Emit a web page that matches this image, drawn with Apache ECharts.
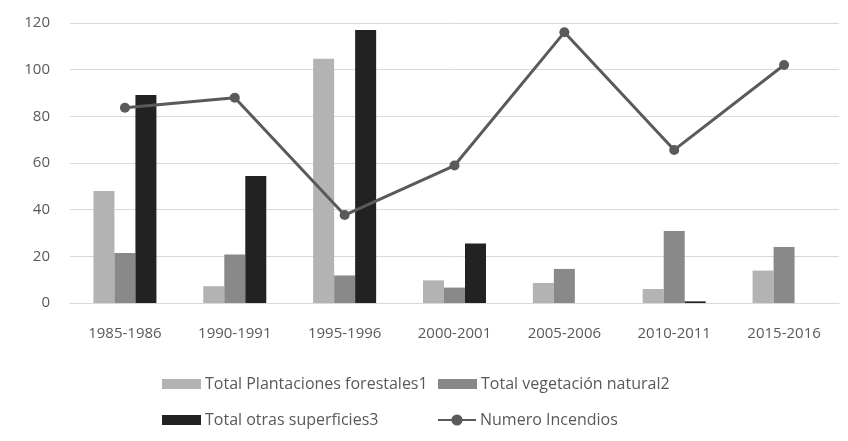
<!DOCTYPE html>
<html><head><meta charset="utf-8">
<script src="https://cdn.jsdelivr.net/npm/echarts@6/dist/echarts.min.js"></script>
<style>html,body{margin:0;padding:0;background:#fff}#c{width:848px;height:441px}</style>
</head><body><div id="c"></div>
<script>
const categories = ['1985-1986','1990-1991','1995-1996','2000-2001','2005-2006','2010-2011','2015-2016'];
const plantaciones = [48, 7.2, 104.7, 9.7, 8.6, 6, 13.9];
const vegetacion = [21.4, 20.8, 11.8, 6.6, 14.6, 30.9, 24];
const otras = [89.1, 54.4, 117, 25.5, 0, 0.7, 0];
const incendios = [83.7, 88, 37.7, 58.9, 116, 65.6, 102];
const yTicks = [0, 20, 40, 60, 80, 100, 120];
const names = ['Total Plantaciones forestales1','Total vegetación natural2','Total otras superficies3','Numero Incendios'];

const font = '"Open Sans", sans-serif';
const txt = {color:'#595959', fontSize:16, fontFamily:font};
function lg(name, left, top, isLine){
  return {data:[name], left:left, top:top, padding:0, itemWidth: isLine?38:39, itemHeight: isLine?14:10, itemGap:0,
    textStyle:Object.assign({}, txt, {padding:[0,0,0,-1]}), selectedMode:false,
    icon: isLine ? undefined : 'rect'};
}
const chart = echarts.init(document.getElementById('c'), null, {renderer:'canvas'});
chart.setOption({
  animation:false,
  grid:{left:70, right:9, top:23, bottom:138},
  legend:[
    lg(names[0], 162, 376, false),
    lg(names[1], 438, 376, false),
    lg(names[2], 162, 412, false),
    lg(names[3], 437, 412, true)
  ],
  xAxis:{type:'category', data:categories,
    axisLine:{lineStyle:{color:'#d9d9d9', width:1}}, axisTick:{show:false},
    axisLabel:{color:'#595959', fontSize:15, fontFamily:font, margin:23}},
  yAxis:{type:'value', min:yTicks[0], max:yTicks[yTicks.length-1], interval:20,
    axisLine:{show:false}, axisTick:{show:false},
    splitLine:{lineStyle:{color:'#d9d9d9', width:1}},
    axisLabel:{color:'#595959', fontSize:15, fontFamily:font, margin:20}},
  series:[
    {name:names[0], type:'bar', data:plantaciones, barWidth:21, barGap:'0%', itemStyle:{color:'#b3b3b3'}},
    {name:names[1], type:'bar', data:vegetacion, barWidth:21, barGap:'0%', itemStyle:{color:'#898989'}},
    {name:names[2], type:'bar', data:otras, barWidth:21, barGap:'0%', itemStyle:{color:'#222222'}},
    {name:names[3], type:'line', data:incendios, symbol:'circle', symbolSize:10,
      lineStyle:{color:'#5a5a5a', width:3}, itemStyle:{color:'#5a5a5a'}, z:5}
  ]
});
</script></body></html>
